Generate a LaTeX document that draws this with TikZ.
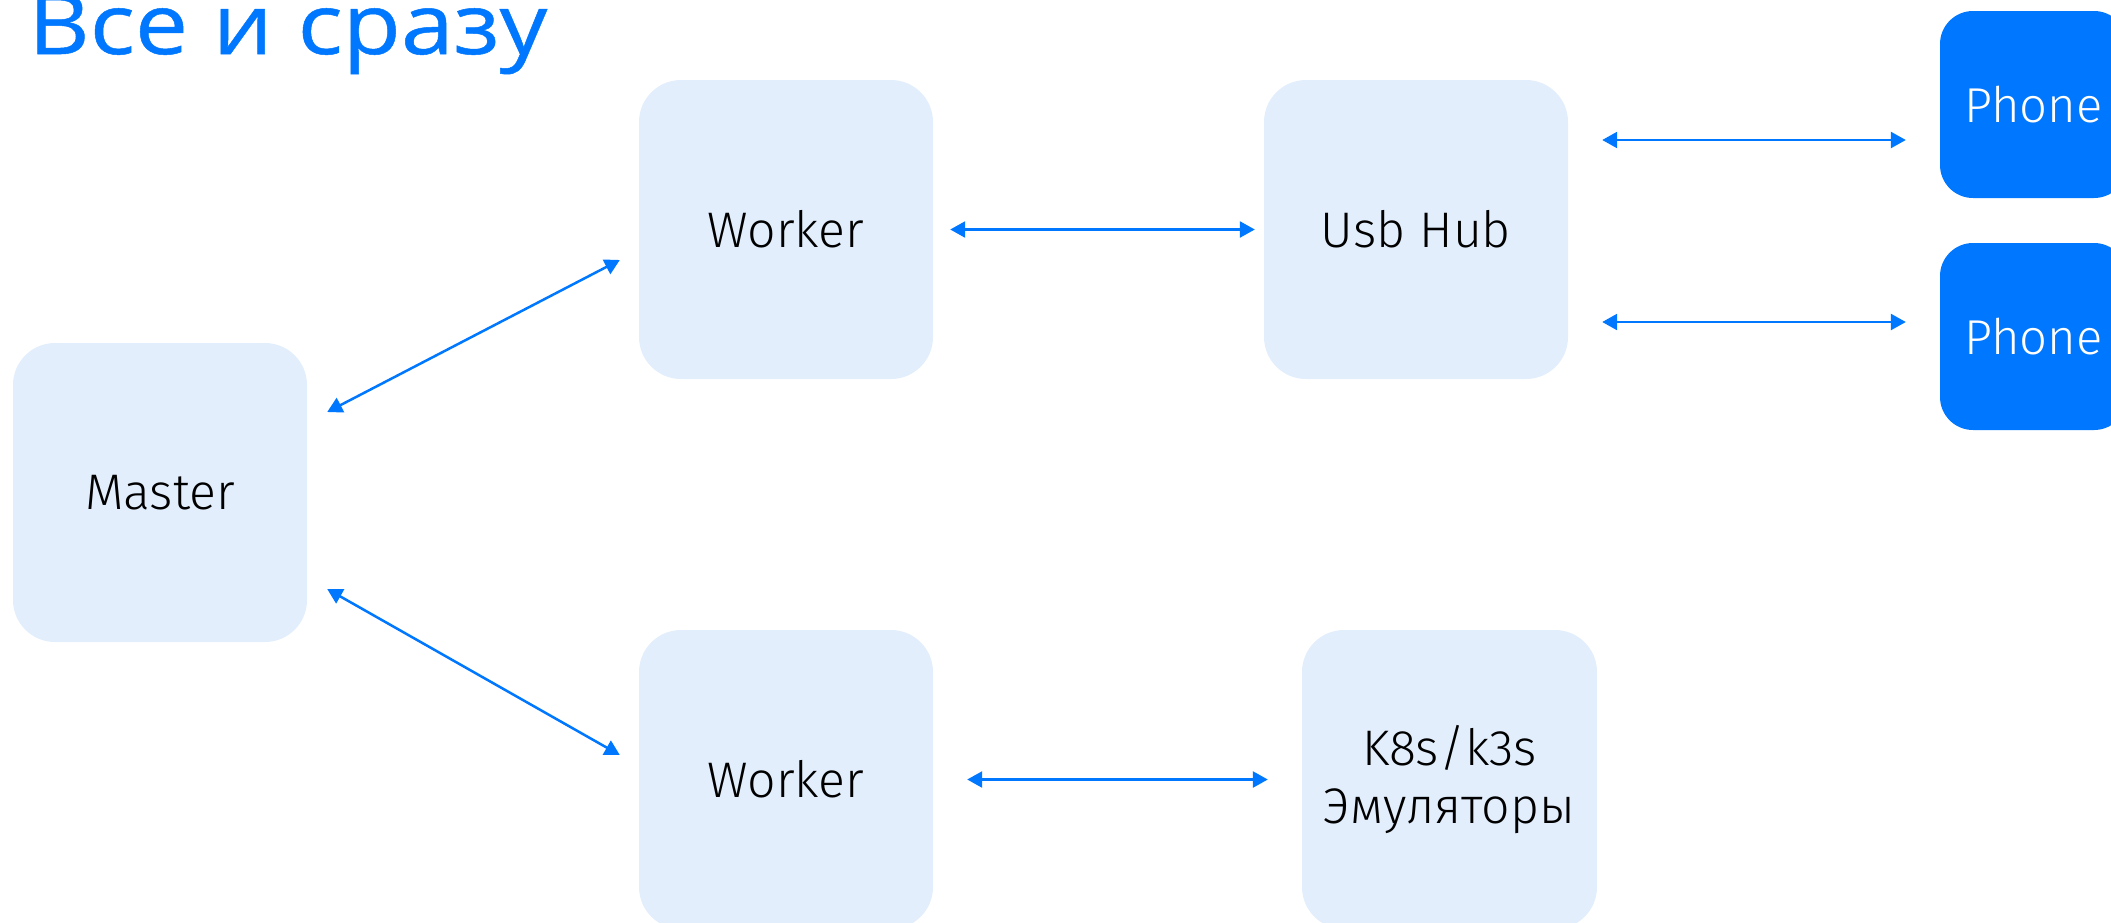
\documentclass[tikz,border=0pt]{standalone}
\usepackage{fontspec}
\setmainfont{Fira Sans Light}
\newfontfamily\titlefont{Open Sans}[FakeStretch=1.13,FakeBold=0.6]
\usetikzlibrary{arrows.meta}
\definecolor{vkblue}{HTML}{0077FF}
\definecolor{cardfill}{HTML}{E2EEFC}
\begin{document}
\begin{tikzpicture}[x=1pt,y=-1pt,
  card/.style={fill=cardfill, rounded corners=42pt, minimum width=294pt,
    minimum height=299pt, inner sep=0pt, align=center, text=black,
    font=\fontsize{50}{58}\selectfont},
  phone/.style={card, fill=vkblue, text=white, minimum width=187pt,
    minimum height=187pt, rounded corners=33pt,
    font=\fontsize{49}{58}\selectfont},
  link/.style={draw=vkblue, line width=2.5pt,
    {Triangle[length=15pt,width=16pt]}-{Triangle[length=15pt,width=16pt]}}]
\useasboundingbox (0,0) rectangle (2111,922);
\clip (0,0) rectangle (2111,922);

% title
\node[anchor=base west, inner sep=0pt, text=vkblue,
  font=\titlefont\fontsize{84}{84}\selectfont] (title) at (28,54) {Все и сразу};

% cards
\node[card] (master) at (160,492.5) {Master};
\node[card] (w1) at (786,229.5) {Worker};
\node[card] (w2) at (786,779.5) {Worker};
\node[card, minimum width=304pt] (hub) at (1416,229.5) {Usb Hub};
\node[card, minimum width=295pt] (k8s) at (1449.5,779.5) {K8s/k3s\\Эмуляторы};
\node[phone] (ph1) at (2033.5,104.5) {Phone};
\node[phone] (ph2) at (2033.5,336.5) {Phone};

% connectors
\draw[link] ([xshift=20pt,yshift=80.5pt]master.east) -- ([xshift=-19pt,yshift=-30.5pt]w1.west);
\draw[link] ([xshift=20pt,yshift=-96.5pt]master.east) -- ([xshift=-19pt,yshift=24.5pt]w2.west);
\draw[link] ([xshift=17pt]w1.east) -- ([xshift=-9pt]hub.west);
\draw[link] ([xshift=34pt]w2.east) -- ([xshift=-34pt]k8s.west);
\draw[link] ([xshift=34pt,yshift=89.5pt]hub.east) -- ([xshift=-34pt,yshift=-35.5pt]ph1.west);
\draw[link] ([xshift=34pt,yshift=-92.5pt]hub.east) -- ([xshift=-34pt,yshift=14.5pt]ph2.west);
\end{tikzpicture}
\end{document}
